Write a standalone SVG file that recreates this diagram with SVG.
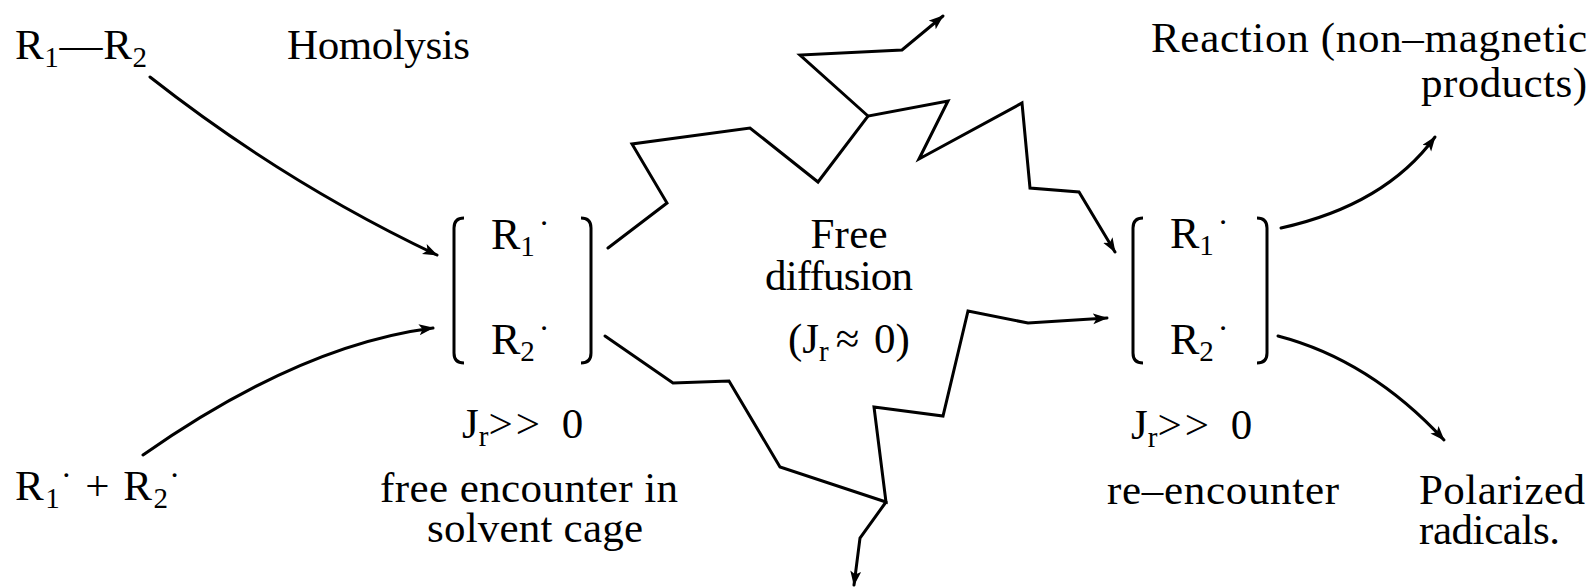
<svg xmlns="http://www.w3.org/2000/svg" width="1593" height="587" viewBox="0 0 1593 587">
<style>
text{font-family:"Liberation Serif","DejaVu Serif",serif;font-size:43px;fill:#000}
.r{font-size:44px}
.sub{font-size:29px}
.dot{font-size:32px}
.gt{letter-spacing:3px}
.ln{fill:none;stroke:#000;stroke-width:3;stroke-linejoin:miter;stroke-linecap:round}
.br{fill:none;stroke:#000;stroke-width:3}
</style>
<defs>
<marker id="ah" markerUnits="userSpaceOnUse" markerWidth="17" markerHeight="12" refX="14" refY="5.5" orient="auto">
<path d="M0,0 L15,5.5 L0,11 L3.5,5.5 z" fill="#000"/>
</marker>
</defs>
<rect width="1593" height="587" fill="#fff"/>

<g id="connectors">
<path class="ln" d="M150 77 Q285 183 437 255" marker-end="url(#ah)"/>
<path class="ln" d="M143 455 Q300 345 433 328" marker-end="url(#ah)"/>
<path class="ln" d="M608 248 L667 203 L632 144 L750 128 L818 182 L868 116 L948 101 L919 159 L1022 103 L1030 188 L1079 192 L1115 252" marker-end="url(#ah)"/>
<path class="ln" d="M868 116 L800 55 L902 50 L943 16" marker-end="url(#ah)"/>
<path class="ln" d="M605 336 L673 383 L729 381 L780 467 L886 502 L874 407 L943 416 L968 311 L1028 323 L1107 318" marker-end="url(#ah)"/>
<path class="ln" d="M886 502 L860 538 L854 585" marker-end="url(#ah)"/>
<path class="ln" d="M1281 228 Q1385 205 1435 137" marker-end="url(#ah)"/>
<path class="ln" d="M1278 336 Q1370 360 1444 440" marker-end="url(#ah)"/>
</g>

<g id="homolysis-source">
<text x="15" y="59" textLength="132" lengthAdjust="spacing">R<tspan class="sub" dy="8">1</tspan><tspan dy="-8">—R</tspan><tspan class="sub" dy="8">2</tspan></text>
</g>
<g id="homolysis-label">
<text x="287" y="59" textLength="183" lengthAdjust="spacing">Homolysis</text>
</g>
<g id="free-radicals">
<text x="15" y="500" textLength="165" lengthAdjust="spacing">R<tspan class="sub" dy="8">1</tspan><tspan class="dot" dy="-22">·</tspan><tspan dy="14"> + R</tspan><tspan class="sub" dy="8">2</tspan><tspan class="dot" dy="-22">·</tspan></text>
</g>

<g id="cage-pair">
<path class="br" d="M464 218 Q454 218 454 228 L454 353 Q454 363 464 363"/>
<path class="br" d="M581 218 Q591 218 591 228 L591 353 Q591 363 581 363"/>
<text class="r" x="491" y="249">R<tspan class="sub" dy="7">1</tspan><tspan class="dot" dx="4" dy="-22">·</tspan></text>
<text class="r" x="491" y="354">R<tspan class="sub" dy="7">2</tspan><tspan class="dot" dx="4" dy="-22">·</tspan></text>
<text x="462" y="438">J<tspan class="sub" dy="8">r</tspan><tspan class="gt" dy="-8">&gt;&gt;</tspan><tspan dx="8"> 0</tspan></text>
<text text-anchor="middle"><tspan x="529" y="502" textLength="298" lengthAdjust="spacing">free encounter in</tspan><tspan x="535" y="542" textLength="216" lengthAdjust="spacing">solvent cage</tspan></text>
</g>

<g id="free-diffusion">
<text text-anchor="middle"><tspan x="849" y="248" textLength="77" lengthAdjust="spacing">Free</tspan><tspan x="839" y="290" textLength="148" lengthAdjust="spacing">diffusion</tspan></text>
<text x="788" y="353">(J<tspan class="sub" dy="8">r</tspan><tspan dy="-8" dx="7">≈ </tspan><tspan dx="4">0)</tspan></text>
</g>

<g id="re-encounter-pair">
<path class="br" d="M1143 218 Q1133 218 1133 228 L1133 353 Q1133 363 1143 363"/>
<path class="br" d="M1257 218 Q1267 218 1267 228 L1267 353 Q1267 363 1257 363"/>
<text class="r" x="1170" y="248">R<tspan class="sub" dy="7">1</tspan><tspan class="dot" dx="4" dy="-22">·</tspan></text>
<text class="r" x="1170" y="354">R<tspan class="sub" dy="7">2</tspan><tspan class="dot" dx="4" dy="-22">·</tspan></text>
<text x="1131" y="439">J<tspan class="sub" dy="8">r</tspan><tspan class="gt" dy="-8">&gt;&gt;</tspan><tspan dx="8"> 0</tspan></text>
<text x="1223" y="504" text-anchor="middle" textLength="232" lengthAdjust="spacing">re–encounter</text>
</g>

<g id="reaction-products">
<text text-anchor="end"><tspan x="1587" y="52" textLength="436" lengthAdjust="spacing">Reaction (non–magnetic</tspan><tspan x="1587" y="97" textLength="166" lengthAdjust="spacing">products)</tspan></text>
</g>

<g id="polarized-radicals">
<text><tspan x="1419" y="504" textLength="166" lengthAdjust="spacing">Polarized</tspan><tspan x="1419" y="544" textLength="141" lengthAdjust="spacing">radicals.</tspan></text>
</g>
</svg>
